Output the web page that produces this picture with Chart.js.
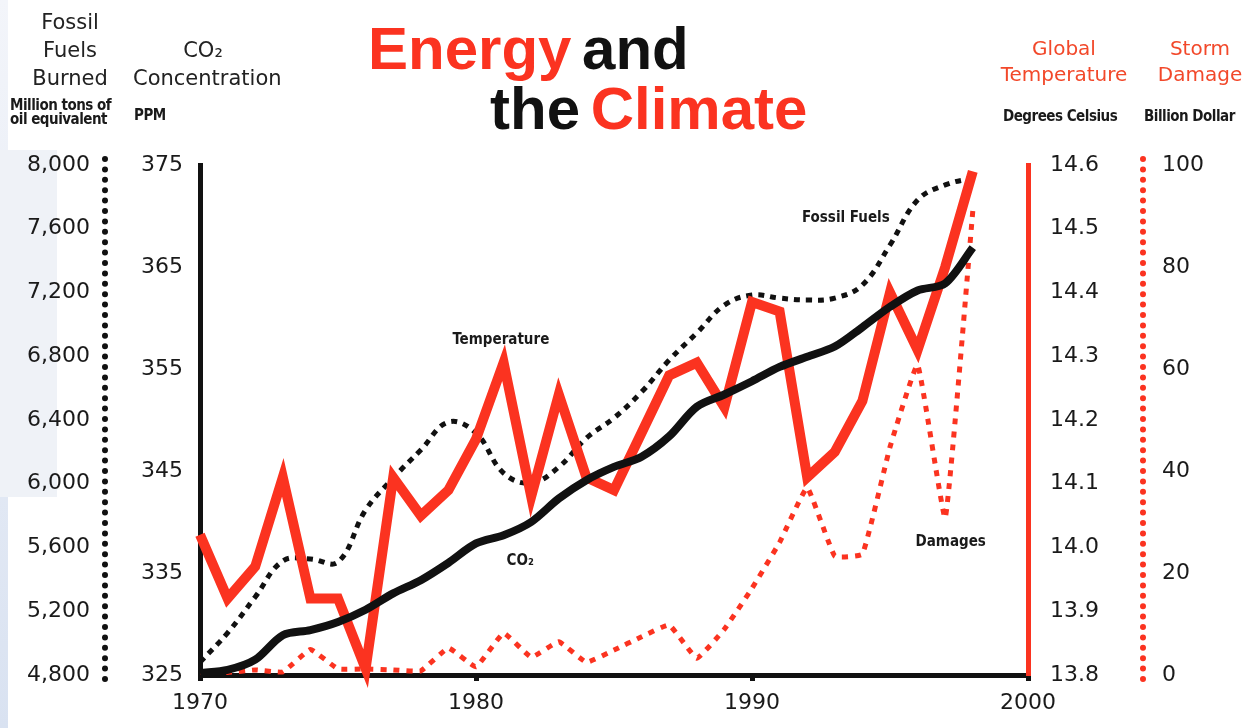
<!DOCTYPE html>
<html>
<head>
<meta charset="utf-8">
<title>Energy and the Climate</title>
<script src="https://cdn.jsdelivr.net/npm/chart.js@4.4.1/dist/chart.umd.min.js"></script>
<style>
  html, body { margin: 0; padding: 0; background: #fff; }
  #wrap { position: relative; width: 1248px; height: 728px; overflow: hidden; background: #fff; }
  #edge { position: absolute; left: 0; top: 0; width: 8px; height: 728px; background: linear-gradient(#f3f5fa, #d9e2f1); }
  #band { position: absolute; left: 0; top: 150px; width: 57px; height: 347px; background: #eff2f7; }
  canvas { position: absolute; left: 0; top: 0; }
  .hd { position: absolute; font-family: "DejaVu Sans", sans-serif; font-size: 21px; line-height: 28px;
        color: #222; text-align: center; white-space: nowrap; }
  .hd.red { color: #f2482a; font-size: 20px; line-height: 26px; }
  .unit { position: absolute; font-family: "Liberation Sans Narrow", "DejaVu Sans Condensed", "Liberation Sans", sans-serif;
          font-stretch: condensed; font-weight: bold; font-size: 15px; line-height: 14px; letter-spacing: -0.5px;
          color: #1a1a1a; white-space: nowrap; }
  .title { position: absolute; font-family: "Liberation Sans", Arial, sans-serif; font-weight: bold;
           font-size: 60px; line-height: 60px; white-space: nowrap; color: #111; word-spacing: -6px; }
  .title .r { color: #fb3320; }
</style>
</head>
<body>
<div id="wrap">
  <div id="edge"></div>
  <div id="band"></div>
  <canvas id="climateChart" width="1248" height="728"></canvas>

  <div class="hd" style="left:0; top:8px; width:140px;">Fossil<br>Fuels<br>Burned</div>
  <div class="hd" style="left:133px; top:36px; width:140px;">CO₂<br>Concentration</div>
  <div class="unit" style="left:10px; top:98px;">Million tons of<br>oil equivalent</div>
  <div class="unit" style="left:134px; top:108px;">PPM</div>

  <div class="hd red" style="left:984px; top:35px; width:160px;">Global<br>Temperature</div>
  <div class="hd red" style="left:1130px; top:35px; width:140px;">Storm<br>Damage</div>
  <div class="unit" style="left:1003px; top:109px;">Degrees Celsius</div>
  <div class="unit" style="left:1144px; top:109px;">Billion Dollar</div>

  <div class="title" style="left:368px; top:19px;"><span class="r">Energy</span> and</div>
  <div class="title" style="left:490px; top:79px;">the <span class="r">Climate</span></div>
</div>

<script>
// years on the x axis
const years = [1970, 1971, 1972, 1973, 1974, 1975, 1976, 1977, 1978, 1979,
               1980, 1981, 1982, 1983, 1984, 1985, 1986, 1987, 1988, 1989,
               1990, 1991, 1992, 1993, 1994, 1995, 1996, 1997, 1998];

// fossil fuels burned, million tons of oil equivalent
const fossilFuels = [4880, 5064, 5290, 5515, 5528, 5509, 5835, 6036, 6212, 6387,
                     6318, 6067, 6005, 6105, 6287, 6413, 6576, 6776, 6946, 7121,
                     7184, 7165, 7153, 7165, 7247, 7498, 7780, 7875, 7919];

// CO2 concentration, ppm
const co2 = [325.2, 325.5, 326.5, 328.9, 329.4, 330.2, 331.4, 333.0, 334.3, 336.0,
             337.9, 338.7, 340.0, 342.3, 344.1, 345.4, 346.4, 348.4, 351.3, 352.5,
             353.8, 355.2, 356.2, 357.2, 359.1, 361.1, 362.7, 363.4, 366.9];

// global temperature, degrees Celsius
const temperature = [14.02, 13.92, 13.97, 14.11, 13.92, 13.92, 13.81, 14.11, 14.05, 14.09,
                     14.17, 14.29, 14.08, 14.24, 14.11, 14.09, 14.18, 14.27, 14.29, 14.22,
                     14.385, 14.37, 14.11, 14.15, 14.23, 14.40, 14.31, 14.44, 14.59];

// storm damage, billion dollars
const damages = [0.5, 0.5, 1.0, 0.6, 5.0, 1.2, 1.2, 1.0, 0.8, 5.3,
                 1.6, 8.2, 3.5, 6.5, 2.5, 4.9, 7.5, 9.8, 3.3, 9.0,
                 17.0, 26.0, 36.7, 23.3, 23.7, 44.7, 60.8, 30.8, 91.0];

// tick labels
const yearTicks = [1970, 1980, 1990, 2000];
const fossilTicks = [4800, 5200, 5600, 6000, 6400, 6800, 7200, 7600, 8000];
const co2Ticks = [325, 335, 345, 355, 365, 375];
const tempTicks = [13.8, 13.9, 14.0, 14.1, 14.2, 14.3, 14.4, 14.5, 14.6];
const damageTicks = [0, 20, 40, 60, 80, 100];

// line labels inside the plot
const lineLabels = [
    { text: 'Temperature', axis: 'yTemp', year: 1980.9, value: 14.325 },
    { text: 'Fossil Fuels', axis: 'yFossil', year: 1993.4, value: 7667 },
    { text: 'CO₂', axis: 'yCO2', year: 1981.6, value: 336.2 },
    { text: 'Damages', axis: 'yDamage', year: 1997.2, value: 26 }
];

const RED = '#fb3320';
const INK = '#111';
const tickFont = { family: 'DejaVu Sans', size: 22 };

function pairs(values) {
    return years.map((y, i) => ({ x: y, y: values[i] }));
}

function fixedTicks(list) {
    return function(scale) {
        scale.ticks = list.map(v => ({ value: v }));
    };
}

// dotted axis lines and line labels
const extrasPlugin = {
    id: 'extras',
    beforeDatasetsDraw(chart) {
        const ctx = chart.ctx;
        const area = chart.chartArea;
        const fossilAxis = chart.scales.yFossil;
        const damageAxis = chart.scales.yDamage;
        ctx.save();
        ctx.lineCap = 'round';
        ctx.lineWidth = 6;
        ctx.setLineDash([0, 10.4]);
        ctx.strokeStyle = INK;
        ctx.beginPath();
        ctx.moveTo(fossilAxis.right, area.top - 6);
        ctx.lineTo(fossilAxis.right, area.bottom + 4);
        ctx.stroke();
        ctx.strokeStyle = RED;
        ctx.beginPath();
        ctx.moveTo(damageAxis.left, area.top - 6);
        ctx.lineTo(damageAxis.left, area.bottom + 4);
        ctx.stroke();
        ctx.restore();
    },
    afterDatasetsDraw(chart) {
        const ctx = chart.ctx;
        ctx.save();
        ctx.font = 'bold 15px "Liberation Sans Narrow", "DejaVu Sans Condensed", "Liberation Sans", sans-serif';
        ctx.fillStyle = '#1a1a1a';
        ctx.textAlign = 'center';
        ctx.textBaseline = 'middle';
        lineLabels.forEach(l => {
            const x = chart.scales.x.getPixelForValue(l.year);
            const y = chart.scales[l.axis].getPixelForValue(l.value);
            ctx.fillText(l.text, x, y);
        });
        ctx.restore();
    }
};

const ctx = document.getElementById('climateChart').getContext('2d');
new Chart(ctx, {
    type: 'line',
    data: {
        datasets: [
            {
                label: 'CO2',
                data: pairs(co2),
                yAxisID: 'yCO2',
                borderColor: INK,
                borderWidth: 8,
                tension: 0.3,
                borderJoinStyle: 'round',
                pointRadius: 0,
                clip: false
            },
            {
                label: 'Temperature',
                data: pairs(temperature),
                yAxisID: 'yTemp',
                borderColor: RED,
                borderWidth: 10,
                tension: 0,
                borderJoinStyle: 'miter',
                pointRadius: 0,
                clip: false
            },
            {
                label: 'Fossil Fuels',
                data: pairs(fossilFuels),
                yAxisID: 'yFossil',
                borderColor: INK,
                borderWidth: 5,
                borderDash: [6, 6],
                tension: 0.4,
                pointRadius: 0,
                clip: false
            },
            {
                label: 'Damages',
                data: pairs(damages),
                yAxisID: 'yDamage',
                borderColor: RED,
                borderWidth: 5,
                borderDash: [6, 7],
                tension: 0.1,
                pointRadius: 0,
                clip: false
            }
        ]
    },
    options: {
        responsive: false,
        animation: false,
        devicePixelRatio: 1,
        layout: { padding: { top: 165, left: 0, right: 0, bottom: 0 } },
        plugins: {
            legend: { display: false },
            tooltip: { enabled: false }
        },
        scales: {
            x: {
                type: 'linear',
                min: 1970,
                max: 2000,
                afterBuildTicks: fixedTicks(yearTicks),
                afterFit: s => { s.height = 53; },
                border: { color: INK, width: 5 },
                grid: { display: true, drawOnChartArea: false, drawTicks: true, tickLength: 6, lineWidth: 5, color: INK },
                ticks: { font: tickFont, color: '#1a1a1a', padding: 9, maxRotation: 0, callback: v => String(v) }
            },
            yFossil: {
                type: 'linear',
                position: 'left',
                weight: 1,
                min: 4800,
                max: 8000,
                afterBuildTicks: fixedTicks(fossilTicks),
                afterFit: s => { s.width = 105; },
                border: { display: false },
                grid: { display: false, drawTicks: false },
                ticks: { font: tickFont, color: '#1a1a1a', padding: 15, callback: v => v.toLocaleString('en-US') }
            },
            yCO2: {
                type: 'linear',
                position: 'left',
                weight: 0,
                min: 325,
                max: 375,
                afterBuildTicks: fixedTicks(co2Ticks),
                afterFit: s => { s.width = 95; },
                border: { color: INK, width: 5 },
                grid: { display: false, drawTicks: false },
                ticks: { font: tickFont, color: '#1a1a1a', padding: 17, callback: v => String(v) }
            },
            yTemp: {
                type: 'linear',
                position: 'right',
                weight: 0,
                min: 13.8,
                max: 14.6,
                afterBuildTicks: fixedTicks(tempTicks),
                afterFit: s => { s.width = 115; },
                border: { color: RED, width: 5 },
                grid: { display: false, drawTicks: false },
                ticks: { font: tickFont, color: '#1a1a1a', padding: 22, callback: v => v.toFixed(1) }
            },
            yDamage: {
                type: 'linear',
                position: 'right',
                weight: 1,
                min: 0,
                max: 100,
                afterBuildTicks: fixedTicks(damageTicks),
                afterFit: s => { s.width = 105; },
                border: { display: false },
                grid: { display: false, drawTicks: false },
                ticks: { font: tickFont, color: '#1a1a1a', padding: 19, callback: v => String(v) }
            }
        }
    },
    plugins: [extrasPlugin]
});
</script>
</body>
</html>
